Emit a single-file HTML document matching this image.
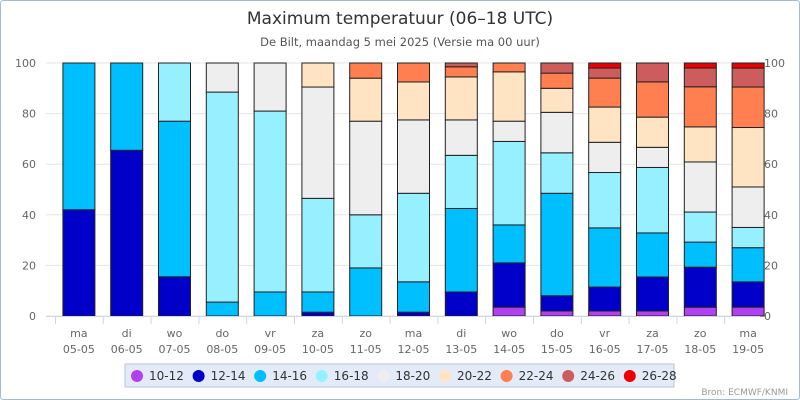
<!DOCTYPE html>
<html><head><meta charset="utf-8"><style>
body{margin:0;background:#fff;}
svg{display:block;font-family:"DejaVu Sans","Liberation Sans",sans-serif;}
</style></head><body>
<svg id="chart" width="800" height="400" viewBox="0 0 800 400">
<rect x="0.5" y="0.5" width="799" height="399" rx="3" fill="#fff" stroke="#a7bccb"/>
<text x="400" y="24" text-anchor="middle" font-size="17" fill="#333">Maximum temperatuur (06–18 UTC)</text>
<text x="400" y="46" text-anchor="middle" font-size="11.5" fill="#555">De Bilt, maandag 5 mei 2025 (Versie ma 00 uur)</text>
<g id="grid"></g><g id="bars"></g><g id="xaxis"></g>
<rect x="125" y="364" width="549" height="23" fill="#e4ebf8" stroke="#b8c4d8"/>
<g id="legend"></g>
<text x="788" y="395" text-anchor="end" font-size="9" fill="#999">Bron: ECMWF/KNMI</text>
</svg>
<script>
const days=["ma","di","wo","do","vr","za","zo","ma","di","wo","do","vr","za","zo","ma"];
const dates=["05-05","06-05","07-05","08-05","09-05","10-05","11-05","12-05","13-05","14-05","15-05","16-05","17-05","18-05","19-05"];
const seriesNames=["10-12","12-14","14-16","16-18","18-20","20-22","22-24","24-26","26-28"];
const colors=["#b040f0","#0000c8","#00bfff","#97f0ff","#eeeeee","#ffe4c4","#ff7f50","#cd5c5c","#ee0000"];
const s1012=[0,0,0,0,0,0,0,0,0,3.5,2,2,2,3.5,3.5];
const s1214=[42,65.5,15.5,0,0,1.5,0,1.5,9.5,17.5,6,9.5,13.5,16,10];
const s1416=[58,34.5,61.5,5.5,9.5,8,19,12,33,15,40.5,23.5,17.5,10,13.5];
const s1618=[0,0,23,83,71.5,37,21,35,21,33,16,22,26,12,8];
const s1820=[0,0,0,11.5,19,44,37,29,14,8,16,12,8,20,16];
const s2022=[0,0,0,0,0,9.5,17,15,17,19.5,9.5,14,12,14,23.5];
const s2224=[0,0,0,0,0,0,6,7.5,4,3.5,6,11.5,14,16,16];
const s2426=[0,0,0,0,0,0,0,0,1.5,0,4,4,7.5,7.5,7.5];
const s2628=[0,0,0,0,0,0,0,0,0,0,0,2,0,2,2];
const series=[s1012,s1214,s1416,s1618,s1820,s2022,s2224,s2426,s2628];
const yTicks=[0,20,40,60,80,100];
const NS="http://www.w3.org/2000/svg";
const X0=55,X1=772,Y0=316,Y1=63;
const band=(X1-X0)/days.length;
const y=v=>Y0-(Y0-Y1)*v/100;
const xc=i=>X0+band*(i+0.5);
function mk(t,a,p){const e=document.createElementNS(NS,t);for(const k in a)e.setAttribute(k,a[k]);p.appendChild(e);return e;}
const grid=document.getElementById('grid');
yTicks.forEach(t=>{
  const l=mk('line',{x1:46,x2:X1-12,y1:y(t),y2:y(t),stroke:'#e6e6e6'},grid);
  
  
  const a=mk('text',{x:36,y:y(t)+4,'text-anchor':'end','font-size':11,fill:'#666'},grid);a.textContent=t;
  
  
  const b=mk('text',{x:764,y:y(t)+4,'text-anchor':'start','font-size':11,fill:'#666'},grid);b.textContent=t;
  
  
});
const bars=document.getElementById('bars');
const bw=32;
days.forEach((d,i)=>{
  let tot=0;series.forEach(s=>tot+=s[i]);
  let acc=0;
  series.forEach((s,k)=>{
    const v=s[i]/tot*100;if(v<=0)return;
    const r=mk('rect',{x:xc(i)-bw/2,y:y(acc+v),width:bw,height:y(acc)-y(acc+v),fill:colors[k],stroke:'#222','stroke-width':1},bars);
    
    
    acc+=v;
  });
});
const xa=document.getElementById('xaxis');
const al=mk('line',{x1:46,x2:X1-12,y1:Y0+0.5,y2:Y0+0.5,stroke:'#ccd6eb'},xa);


days.forEach((d,i)=>{
  const tk=mk('line',{x1:X0+band*i+0.5,x2:X0+band*i+0.5,y1:Y0,y2:Y0+8,stroke:'#ccd6eb'},xa);
  
  
  const t=mk('text',{x:xc(i),y:337,'text-anchor':'middle','font-size':11,fill:'#666'},xa);t.textContent=d;
  
  
  const t2=mk('text',{x:xc(i),y:353,'text-anchor':'middle','font-size':11,fill:'#666'},xa);t2.textContent=dates[i];
  
  
});
const lg=document.getElementById('legend');
seriesNames.forEach((n,k)=>{
  const x=137+k*61.6;
  const g=mk('g',{},lg);
  
  
  mk('circle',{cx:x,cy:376,r:6,fill:colors[k]},g);
  const t=mk('text',{x:x+12,y:380,'font-size':12,fill:'#333'},g);t.textContent=n;
});
</script>
</body></html>
